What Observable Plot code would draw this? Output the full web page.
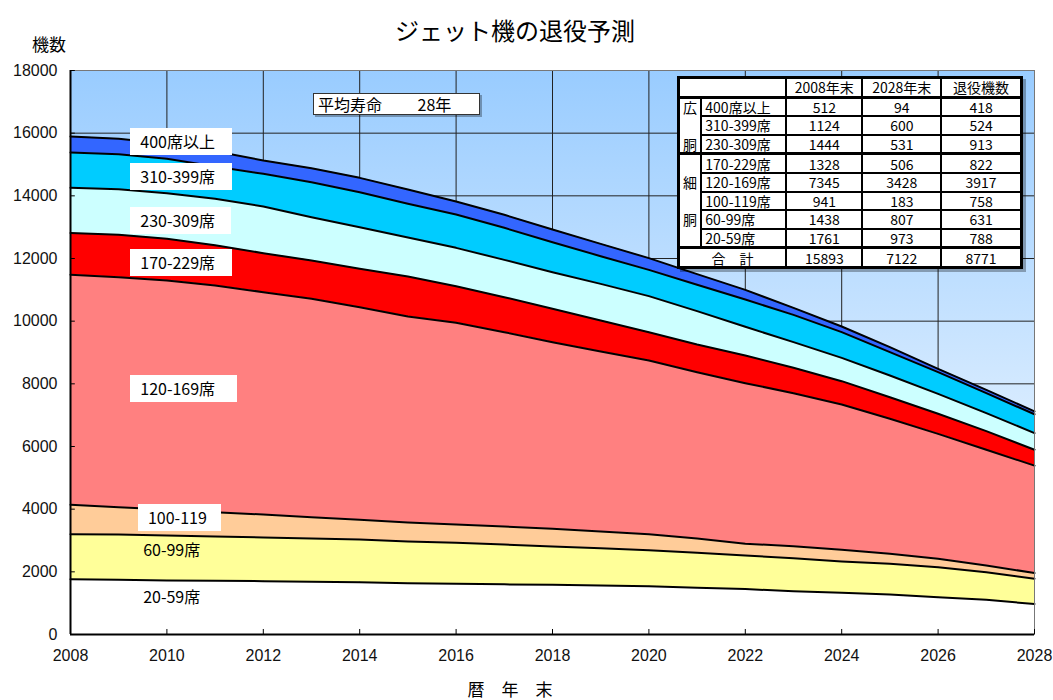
<!DOCTYPE html>
<html><head><meta charset="utf-8">
<script src="https://cdn.jsdelivr.net/npm/d3@7"></script>
<script src="https://cdn.jsdelivr.net/npm/@observablehq/plot@0.6"></script>
<style>
body{margin:0;background:#fff;font-family:"Noto Sans CJK JP",sans-serif;}
#wrap{position:relative;width:1053px;height:700px;overflow:hidden;}
.ov{position:absolute;white-space:pre;color:#000;font-family:"Noto Sans CJK JP",sans-serif;}
.lbl{font-size:16px;line-height:27px;height:27px;padding-left:10px;box-sizing:border-box;}
.lbl.box{background:#fff;}
#tbl{position:absolute;border-collapse:collapse;border:3px solid #000;background:#fff;table-layout:fixed;box-shadow:3px 3px 0 rgba(0,0,0,0.3);}
#tbl td{border:2px solid #000;padding:0;font-size:14px;line-height:1;text-align:center;height:16.6px;font-family:"Noto Sans CJK JP",sans-serif;}
#tbl td.g{border-top:none;border-bottom:none;}
#tbl tr.gs td{border-top:3px solid #000;}
#tbl td.name{text-align:left;padding-left:3px;}
</style></head><body><div id="wrap"></div>
<script>
// ---- data ----
const years = [2008,2009,2010,2011,2012,2013,2014,2015,2016,2017,2018,2019,2020,2021,2022,2023,2024,2025,2026,2027,2028];
const cats = ["20-59席","60-99席","100-119席","120-169席","170-229席","230-309席","310-399席","400席以上"];
const s20_59   = [1761,1745,1723,1712,1702,1686,1670,1638,1617,1600,1585,1565,1543,1490,1450,1383,1330,1277,1191,1106,973];
const s60_99   = [1438,1446,1437,1416,1394,1378,1362,1330,1309,1272,1224,1190,1148,1120,1071,1053,1000,978,958,883,807];
const s100_119 = [941,873,829,776,734,681,628,606,585,575,563,535,509,450,379,379,372,319,266,213,183];
const s120_169 = [7345,7340,7309,7234,7096,6968,6787,6575,6436,6202,5958,5742,5545,5312,5121,4887,4638,4309,3989,3692,3428];
const s170_229 = [1328,1351,1330,1288,1244,1223,1223,1277,1170,1117,1064,989,904,883,883,809,745,691,639,595,506];
const s230_309 = [1444,1458,1457,1478,1490,1383,1330,1244,1223,1191,1170,1170,1151,1065,916,819,745,692,638,575,531];
const s310_399 = [1124,1117,1096,1032,1042,1117,1117,1075,1064,1022,957,883,838,840,870,872,819,745,691,638,600];
const s400     = [512,489,479,489,426,447,457,457,415,415,405,394,373,340,310,224,181,159,107,107,94];
const seriesValues = [s20_59,s60_99,s100_119,s120_169,s170_229,s230_309,s310_399,s400];
const colors = ["#FFFFFF","#FFFF99","#FFCC99","#FF8080","#FF0000","#CCFFFF","#00CCFF","#3366FF"];

const xTicks = [2008,2010,2012,2014,2016,2018,2020,2022,2024,2026,2028];
const yTicks = [0,2000,4000,6000,8000,10000,12000,14000,16000,18000];

// table data
const tableCats = ["400席以上","310-399席","230-309席","170-229席","120-169席","100-119席","60-99席","20-59席"];
const groupMarks = ["広","","胴","","細","","胴",""];
const end2008 = [512,1124,1444,1328,7345,941,1438,1761];
const end2028 = [94,600,531,506,3428,183,807,973];
const retired = [418,524,913,822,3917,758,631,788];
const totals = [15893,7122,8771];
const tableHeader = ["2008年末","2028年末","退役機数"];

// area labels (annotation anchors in data units)
const areaLabels = ["400席以上","310-399席","230-309席","170-229席","120-169席","100-119","60-99席","20-59席"];
const labelYear  = [2009.25,2009.25,2009.25,2009.25,2009.25,2009.41,2009.31,2009.31];
const labelValue = [15734,14617,13181,11841,7851,3734,2681,1181];
const labelBoxW  = [102,102,101,102,107,83,0,0];

// ---- build ----
const rows = [];
cats.forEach((c, k) => years.forEach((yr, i) => rows.push({year: yr, cat: c, value: seriesValues[k][i]})));

const bg = (index, scales, values, dims) => {
  const g = d3.create("svg:g");
  const lg = g.append("defs").append("linearGradient").attr("id","bgGrad")
    .attr("x1",0).attr("y1",0).attr("x2",0).attr("y2",1);
  lg.append("stop").attr("offset","0%").attr("stop-color","#99CCFF");
  lg.append("stop").attr("offset","100%").attr("stop-color","#FFFFFF");
  g.append("rect").attr("x",dims.marginLeft).attr("y",dims.marginTop)
    .attr("width",dims.width-dims.marginLeft-dims.marginRight)
    .attr("height",dims.height-dims.marginTop-dims.marginBottom)
    .attr("fill","url(#bgGrad)");
  return g.node();
};

const chart = Plot.plot({
  width: 1053, height: 700,
  marginLeft: 70, marginRight: 19, marginTop: 70, marginBottom: 66,
  style: {fontFamily: "'Liberation Sans', Arial, sans-serif", fontSize: "16px", background: "transparent", color: "#111"},
  x: {domain: [2008, 2028], label: null},
  y: {domain: [0, 18000], label: null},
  color: {domain: cats, range: colors},
  marks: [
    bg,
    Plot.gridX({ticks: xTicks, stroke: "#222", strokeOpacity: 1, strokeWidth: 1}),
    Plot.gridY({ticks: yTicks, stroke: "#222", strokeOpacity: 1, strokeWidth: 1}),
    Plot.areaY(rows, {x: "year", y: "value", z: "cat", fill: "cat", order: cats}),
    Plot.lineY(rows, Plot.stackY2({x: "year", y: "value", z: "cat", order: cats, stroke: "#000", strokeWidth: 2})),
    Plot.frame({stroke: "#777", strokeWidth: 1}),
    Plot.ruleX([2008], {stroke: "#000", strokeWidth: 2}),
    Plot.ruleY([0], {stroke: "#000", strokeWidth: 2}),
    Plot.ruleY(yTicks, {y: d => d, x1: 2008, x2: 2008.1, stroke: "#000", strokeWidth: 1}),
    Plot.ruleX(xTicks, {x: d => d, y1: 0, y2: 160, stroke: "#000", strokeWidth: 1}),
    Plot.axisY({ticks: yTicks, tickSize: 0, tickPadding: 13, tickFormat: d => String(d)}),
    Plot.axisX({ticks: xTicks, tickSize: 0, tickPadding: 15, tickFormat: d => String(d)})
  ]
});

const wrap = document.getElementById("wrap");
chart.style.position = "absolute"; chart.style.left = "0px"; chart.style.top = "0px";
wrap.appendChild(chart);
const sx = chart.scale("x"), sy = chart.scale("y");

function ov(text, css) {
  const d = document.createElement("div");
  d.className = "ov"; d.textContent = text;
  Object.assign(d.style, css);
  wrap.appendChild(d); return d;
}
// titles
ov("ジェット機の退役予測", {left: "0px", width: "1030px", textAlign: "center", top: "12px", fontSize: "24px", lineHeight: "36px"});
ov("機数", {left: "32px", top: "32px", fontSize: "17px", lineHeight: "24px"});
ov("暦　年　末", {left: "0px", width: "1020px", textAlign: "center", top: "677px", fontSize: "17px", lineHeight: "24px"});

// area labels
areaLabels.forEach((t, i) => {
  const d = ov(t, {left: sx.apply(labelYear[i]) + "px", top: (sy.apply(labelValue[i]) - 13.5) + "px"});
  d.classList.add("lbl");
  if (labelBoxW[i]) { d.classList.add("box"); d.style.width = labelBoxW[i] + "px"; }
});

// average life box
ov("平均寿命　　 28年", {left: sx.apply(2013.04) + "px", top: sy.apply(17266) + "px", width: "167px", height: "22px",
  boxSizing: "border-box", border: "1px solid #333", background: "#fff", fontSize: "16px", lineHeight: "20px",
  paddingLeft: "4px", boxShadow: "2px 2px 0 rgba(0,0,0,0.3)"});

// table
const tbl = document.createElement("table");
tbl.id = "tbl";
tbl.style.left = sx.apply(2020.59) + "px";
tbl.style.top = sy.apply(17809) + "px";
tbl.style.width = "343px";
const cg = document.createElement("colgroup");
[23,85,76,79,80].forEach(w => { const c = document.createElement("col"); c.style.width = w + "px"; cg.appendChild(c); });
tbl.appendChild(cg);
let tr = document.createElement("tr");
let td = document.createElement("td"); td.colSpan = 2; tr.appendChild(td);
tableHeader.forEach(h => { const c = document.createElement("td"); c.textContent = h; tr.appendChild(c); });
tbl.appendChild(tr);
tableCats.forEach((c, i) => {
  const r = document.createElement("tr");
  if (i === 0 || i === 3) r.className = "gs";
  const g = document.createElement("td"); g.className = "g"; g.textContent = groupMarks[i];
  if (i === 0 || i === 3) g.style.borderTop = "3px solid #000";
  if (i === 2 || i === 7) g.style.borderBottom = "3px solid #000";
  r.appendChild(g);
  const n = document.createElement("td"); n.className = "name"; n.textContent = c; r.appendChild(n);
  [end2008[i], end2028[i], retired[i]].forEach(v => { const x = document.createElement("td"); x.textContent = v; r.appendChild(x); });
  tbl.appendChild(r);
});
tr = document.createElement("tr"); tr.className = "gs";
td = document.createElement("td"); td.colSpan = 2; td.textContent = "合　計"; tr.appendChild(td);
totals.forEach(v => { const x = document.createElement("td"); x.textContent = v; tr.appendChild(x); });
tbl.appendChild(tr);
wrap.appendChild(tbl);
</script>
</body></html>
